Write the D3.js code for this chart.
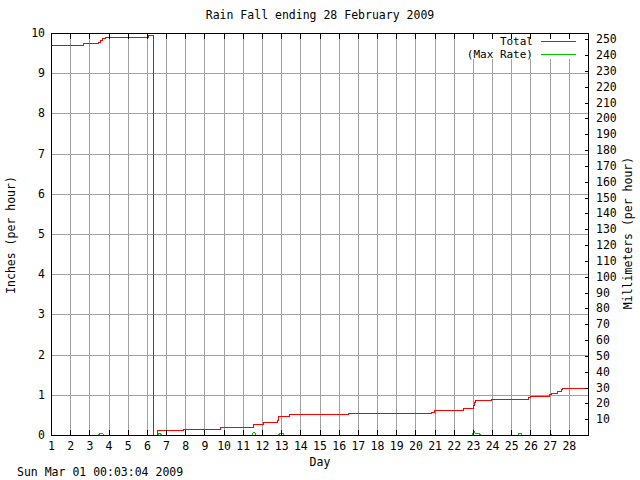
<!DOCTYPE html>
<html>
<head>
<meta charset="utf-8">
<script src="https://cdn.jsdelivr.net/npm/d3@7/dist/d3.min.js"></script>
<style>
  html, body { margin: 0; padding: 0; background: #fff; }
  svg text { font-family: "DejaVu Sans Mono", monospace; font-size: 11.5px; fill: #000; }
  svg text.leg { font-size: 11px; }
</style>
</head>
<body>
<svg id="chart" width="640" height="480"></svg>
<script>
// ---- data ----
const title = "Rain Fall ending 28 February 2009";
const footer = "Sun Mar 01 00:03:04 2009";
const dayTicks = [1,2,3,4,5,6,7,8,9,10,11,12,13,14,15,16,17,18,19,20,21,22,23,24,25,26,27,28];
const inchTicks = [0,1,2,3,4,5,6,7,8,9,10];
const mmTicks = [10,20,30,40,50,60,70,80,90,100,110,120,130,140,150,160,170,180,190,200,210,220,230,240,250];

// Total (cumulative, inches), step-after
const totalDays = [1.0, 2.68, 3.47, 3.56, 3.66, 3.80, 6.07, 6.33, 6.55, 7.87, 9.81, 11.52, 12.04, 12.77, 12.86, 13.42, 16.47, 20.80, 20.95, 22.46, 22.99, 23.05, 23.12, 23.95, 25.85, 25.95, 26.95, 27.05, 27.40, 27.60, 27.65, 29.0];
const totalIn  = [9.70, 9.74, 9.78, 9.83, 9.87, 9.89, 9.94, 0.00, 0.12, 0.15, 0.19, 0.27, 0.32, 0.37, 0.47, 0.52, 0.54, 0.58, 0.62, 0.66, 0.75, 0.82, 0.86, 0.885, 0.95, 0.97, 1.02, 1.05, 1.10, 1.14, 1.18, 1.18];

// Max rate (inches per hour)
const rateDays = [1.0, 3.45, 3.52, 3.68, 3.75, 6.55, 6.58, 6.70, 6.73, 11.45, 11.53, 11.60, 11.67, 12.85, 12.87, 13.10, 13.12, 22.95, 23.00, 23.08, 23.12, 23.32, 23.38, 25.35, 25.37, 25.50, 25.52, 26.97, 27.00, 27.05, 27.08, 29.0];
const rateIn   = [0, 0, 0.05, 0.05, 0, 0, 0.04, 0.04, 0, 0, 0.08, 0.08, 0, 0, 0.04, 0.04, 0, 0, 0.12, 0.07, 0.04, 0.04, 0, 0, 0.04, 0.04, 0, 0, 0.03, 0.03, 0, 0];

const legendLabels = ["Total", "(Max Rate)"];
const legendColors = ["#ff0000", "#00c000"];

// ---- layout ----
const L = 51, R = 588, T = 33, B = 435;
const svg = d3.select("#chart");
const x = d3.scaleLinear().domain([1, 29]).range([L, R]);
const y = d3.scaleLinear().domain([0, 10]).range([B, T]);
const yMm = d3.scaleLinear().domain([0, 254]).range([B, T]);
const px = v => Math.round(v) + 0.5;

const g = svg.append("g").attr("shape-rendering", "crispEdges");

// grid
g.selectAll(".vg").data(dayTicks.filter(d => d > 1)).enter().append("line")
  .attr("x1", d => px(x(d))).attr("x2", d => px(x(d)))
  .attr("y1", T).attr("y2", B)
  .attr("stroke", "#a0a0a0");
g.selectAll(".hg").data(inchTicks.filter(d => d > 0 && d < 10)).enter().append("line")
  .attr("x1", L).attr("x2", R)
  .attr("y1", d => px(y(d))).attr("y2", d => px(y(d)))
  .attr("stroke", "#a0a0a0");

// legend background
g.append("rect").attr("x", 462).attr("y", 35).attr("width", 124).attr("height", 24).attr("fill", "#fff");

// series
const rateLine = d3.line().x((d, i) => px(x(rateDays[i]))).y((d, i) => px(y(rateIn[i])));
g.append("path").attr("d", rateLine(rateIn)).attr("fill", "none").attr("stroke", legendColors[1]).attr("stroke-width", 1);

// frame
g.append("rect").attr("x", L + 0.5).attr("y", T + 0.5).attr("width", Math.round(R - L)).attr("height", B - T)
  .attr("fill", "none").attr("stroke", "#000");

const totalLine = d3.line().curve(d3.curveStepAfter).x((d, i) => px(x(totalDays[i]))).y((d, i) => px(y(totalIn[i])));
g.append("path").attr("d", totalLine(totalIn)).attr("fill", "none").attr("stroke", legendColors[0]).attr("stroke-width", 1);

// redraw bottom axis line over series
g.append("line").attr("x1", L).attr("x2", R + 1).attr("y1", B + 0.5).attr("y2", B + 0.5).attr("stroke", "#000");

// top & bottom ticks
g.selectAll(".tt").data(dayTicks).enter().append("line")
  .attr("x1", d => px(x(d))).attr("x2", d => px(x(d)))
  .attr("y1", T).attr("y2", T + 6).attr("stroke", "#000");
g.selectAll(".bt").data(dayTicks).enter().append("line")
  .attr("x1", d => px(x(d))).attr("x2", d => px(x(d)))
  .attr("y1", B - 5).attr("y2", B + 1).attr("stroke", "#000");

// right mm ticks
g.selectAll(".rt").data(mmTicks).enter().append("line")
  .attr("x1", px(R) - 4).attr("x2", px(R))
  .attr("y1", d => px(yMm(d))).attr("y2", d => px(yMm(d)))
  .attr("stroke", "#000");

// labels
svg.selectAll(".xl").data(dayTicks).enter().append("text")
  .attr("x", d => x(d) + 0.5).attr("y", 450).attr("text-anchor", "middle").text(d => d);
svg.selectAll(".yl").data(inchTicks).enter().append("text")
  .attr("x", 45).attr("y", d => y(d) + 4).attr("text-anchor", "end").text(d => d);
svg.selectAll(".ml").data(mmTicks).enter().append("text")
  .attr("x", 596).attr("y", d => yMm(d) + 4).attr("text-anchor", "start").text(d => d);

svg.append("text").attr("x", 320).attr("y", 19).attr("text-anchor", "middle").text(title);
svg.append("text").attr("x", 320).attr("y", 466).attr("text-anchor", "middle").text("Day");
svg.append("text").attr("x", 17).attr("y", 476).attr("text-anchor", "start").text(footer);
svg.append("text").attr("transform", "translate(15,235) rotate(-90)").attr("text-anchor", "middle").text("Inches (per hour)");
svg.append("text").attr("transform", "translate(632,233) rotate(-90)").attr("text-anchor", "middle").text("Millimeters (per hour)");

// legend
legendLabels.forEach((lab, i) => {
  const ly = 41 + i * 13;
  svg.append("text").attr("class", "leg").attr("x", 533).attr("y", ly + 4).attr("text-anchor", "end").text(lab);
  g.append("line").attr("x1", 541).attr("x2", 576).attr("y1", ly + 0.5).attr("y2", ly + 0.5)
    .attr("stroke", legendColors[i]);
});
</script>
</body>
</html>
